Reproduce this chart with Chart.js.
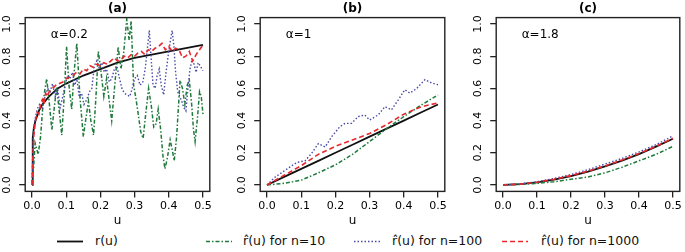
<!DOCTYPE html>
<html>
<head>
<meta charset="utf-8">
<script src="https://cdn.jsdelivr.net/npm/chart.js@4.4.1/dist/chart.umd.min.js"></script>
<style>
  body { margin: 0; background: #fff; }
  #wrap { position: relative; width: 685px; height: 252px; overflow: hidden; font-family: 'DejaVu Sans', sans-serif; }
  #wrap canvas { position: absolute; top: 0; }
  .key { position: absolute; top: 233px; height: 16px; line-height: 16px; font-size: 12.5px; color: #111; white-space: nowrap; }
  .key svg { position: absolute; top: 0; left: 0; }
</style>
</head>
<body>
<div id="wrap">
  <canvas id="pa" width="225" height="232" style="left:0px"></canvas>
  <canvas id="pb" width="225" height="232" style="left:235px"></canvas>
  <canvas id="pc" width="214" height="232" style="left:471px"></canvas>
</div>
<script>
// ticks, titles, legend
const xTicks = [0, 0.1, 0.2, 0.3, 0.4, 0.5];
const yTicks = [0, 0.2, 0.4, 0.6, 0.8, 1.0];
const panelTitles = ['(a)', '(b)', '(c)'];
const alphaLabels = ['α=0.2', 'α=1', 'α=1.8'];
const legendLabels = ['r(u)', 'r\u0302(u) for n=10', 'r\u0302(u) for n=100', 'r\u0302(u) for n=1000'];

// panel (a), alpha = 0.2
const uTrueA = [0, 0.002, 0.005, 0.01, 0.02, 0.03, 0.05, 0.075, 0.1, 0.15, 0.2, 0.25, 0.3, 0.35, 0.4, 0.45, 0.5];
const rTrueA = [0, 0.29, 0.35, 0.40, 0.46, 0.50, 0.55, 0.60, 0.63, 0.68, 0.72, 0.76, 0.79, 0.81, 0.83, 0.85, 0.87];

const uN10A = [0, 0.005, 0.009, 0.014, 0.018, 0.025, 0.032, 0.038, 0.043, 0.05,
  0.058, 0.065, 0.072, 0.08, 0.087, 0.094, 0.101, 0.108, 0.116, 0.123,
  0.131, 0.14, 0.15, 0.158, 0.165, 0.172, 0.18, 0.187, 0.194, 0.202,
  0.21, 0.218, 0.226, 0.233, 0.242, 0.252, 0.26, 0.268, 0.277, 0.284,
  0.29, 0.297, 0.303, 0.31, 0.318, 0.325, 0.333, 0.341, 0.349, 0.356,
  0.363, 0.369, 0.376, 0.383, 0.389, 0.396, 0.404, 0.41, 0.416, 0.423,
  0.433, 0.44, 0.447, 0.454, 0.46, 0.467, 0.472, 0.477, 0.484, 0.49,
  0.495, 0.5];
const rN10A = [0.01, 0.12, 0.26, 0.22, 0.19, 0.30, 0.50, 0.60, 0.66, 0.52,
  0.34, 0.48, 0.61, 0.45, 0.31, 0.55, 0.86, 0.62, 0.47, 0.70,
  0.88, 0.55, 0.30, 0.42, 0.52, 0.40, 0.31, 0.55, 0.83, 0.70,
  0.55, 0.66, 0.52, 0.40, 0.62, 0.86, 0.72, 0.82, 1.03, 0.90,
  1.02, 0.62, 0.55, 0.45, 0.33, 0.29, 0.45, 0.60, 0.49, 0.36,
  0.38, 0.47, 0.35, 0.18, 0.10, 0.17, 0.28, 0.22, 0.15, 0.30,
  0.65, 0.60, 0.50, 0.62, 0.65, 0.50, 0.35, 0.27, 0.42, 0.58,
  0.55, 0.44];

const uN100A = [0, 0.003, 0.008, 0.015, 0.022, 0.03, 0.038, 0.046, 0.053, 0.06,
  0.068, 0.075, 0.082, 0.09, 0.097, 0.104, 0.111, 0.118, 0.125, 0.131,
  0.138, 0.145, 0.152, 0.16, 0.168, 0.175, 0.182, 0.189, 0.196, 0.204,
  0.211, 0.218, 0.226, 0.233, 0.241, 0.248, 0.256, 0.263, 0.27, 0.278,
  0.286, 0.293, 0.3, 0.308, 0.316, 0.324, 0.331, 0.338, 0.343, 0.348,
  0.354, 0.36, 0.366, 0.372, 0.378, 0.385, 0.392, 0.398, 0.405, 0.41,
  0.415, 0.42, 0.426, 0.432, 0.438, 0.444, 0.45, 0.456, 0.462, 0.468,
  0.474, 0.48, 0.486, 0.492, 0.5];
const rN100A = [0, 0.30, 0.40, 0.47, 0.50, 0.47, 0.55, 0.60, 0.58, 0.63,
  0.55, 0.60, 0.48, 0.55, 0.62, 0.68, 0.66, 0.70, 0.62, 0.66,
  0.55, 0.57, 0.50, 0.53, 0.58, 0.60, 0.74, 0.77, 0.73, 0.76,
  0.70, 0.72, 0.64, 0.66, 0.72, 0.74, 0.66, 0.60, 0.57, 0.56,
  0.55, 0.60, 0.66, 0.68, 0.62, 0.64, 0.72, 0.86, 0.96, 0.80,
  0.62, 0.60, 0.68, 0.72, 0.62, 0.56, 0.70, 0.80, 0.90, 0.96,
  0.86, 0.70, 0.58, 0.55, 0.52, 0.48, 0.46, 0.60, 0.72, 0.78,
  0.75, 0.70, 0.76, 0.74, 0.71];

const uN1000A = [0, 0.002, 0.005, 0.01, 0.015, 0.02, 0.025, 0.03, 0.035, 0.04,
  0.045, 0.05, 0.06, 0.07, 0.08, 0.09, 0.1, 0.11, 0.12, 0.13,
  0.14, 0.15, 0.16, 0.17, 0.18, 0.19, 0.2, 0.21, 0.22, 0.23,
  0.24, 0.25, 0.26, 0.27, 0.28, 0.29, 0.3, 0.31, 0.32, 0.33,
  0.34, 0.35, 0.36, 0.37, 0.38, 0.39, 0.4, 0.41, 0.42, 0.43,
  0.44, 0.45, 0.46, 0.47, 0.48, 0.49, 0.5];
const rN1000A = [0, 0.15, 0.30, 0.40, 0.45, 0.44, 0.50, 0.53, 0.50, 0.57,
  0.55, 0.58, 0.60, 0.62, 0.63, 0.64, 0.66, 0.67, 0.68, 0.70,
  0.69, 0.72, 0.71, 0.74, 0.73, 0.75, 0.74, 0.76, 0.75, 0.77,
  0.79, 0.77, 0.78, 0.80, 0.79, 0.81, 0.80, 0.82, 0.83, 0.81,
  0.84, 0.83, 0.85, 0.86, 0.88, 0.84, 0.86, 0.83, 0.85, 0.84,
  0.79, 0.80, 0.83, 0.77, 0.81, 0.84, 0.87];

// panels (b) and (c) share one u grid
const uGrid = [0, 0.05, 0.1, 0.15, 0.2, 0.25, 0.3, 0.35, 0.4, 0.45, 0.5];

// panel (b), alpha = 1
const rTrueB  = [0, 0.05, 0.1, 0.15, 0.2, 0.25, 0.3, 0.35, 0.4, 0.45, 0.5];
const rN10B   = [0, 0.01, 0.03, 0.075, 0.125, 0.19, 0.27, 0.35, 0.425, 0.495, 0.56];
const rN1000B = [0, 0.06, 0.12, 0.19, 0.24, 0.28, 0.32, 0.375, 0.44, 0.485, 0.51];
const uN100B  = [0, 0.023, 0.052, 0.087, 0.111, 0.13, 0.15, 0.17, 0.189, 0.213,
  0.228, 0.247, 0.267, 0.286, 0.3, 0.325, 0.345, 0.364, 0.384, 0.403,
  0.418, 0.438, 0.462, 0.481, 0.5];
const rN100B  = [0, 0.048, 0.09, 0.14, 0.15, 0.195, 0.257, 0.236, 0.30, 0.362,
  0.383, 0.383, 0.425, 0.435, 0.404, 0.435, 0.487, 0.467, 0.529, 0.592,
  0.571, 0.60, 0.655, 0.634, 0.623];

// panel (c), alpha = 1.8
const rTrueC  = [0, 0.005, 0.016, 0.033, 0.055, 0.083, 0.115, 0.151, 0.192, 0.238, 0.287];
const rN10C   = [0, 0.003, 0.01, 0.02, 0.035, 0.05, 0.075, 0.11, 0.15, 0.19, 0.24];
const rN100C  = [0, 0.006, 0.02, 0.04, 0.065, 0.095, 0.13, 0.165, 0.205, 0.25, 0.305];
const rN1000C = [0, 0.005, 0.017, 0.035, 0.058, 0.086, 0.118, 0.155, 0.195, 0.24, 0.29];

const styles = [
    { color: '#111111', width: 1.8, dash: [] },
    { color: '#1f7a3c', width: 1.5, dash: [4, 2, 1.5, 2] },
    { color: '#4a4aa8', width: 1.4, dash: [1.5, 2] },
    { color: '#e8282c', width: 1.6, dash: [5, 3] },
];

Chart.defaults.font.family = "'DejaVu Sans', sans-serif";
Chart.defaults.color = '#111';

const pts = (u, v) => u.map((x, i) => ({ x, y: v[i] }));

// box round the plot region, R style
const frame = {
    id: 'frame',
    afterDraw(chart) {
        const { ctx, chartArea: { left, top, right, bottom } } = chart;
        ctx.save();
        ctx.strokeStyle = '#222';
        ctx.lineWidth = 1.4;
        ctx.strokeRect(left, top, right - left, bottom - top);
        ctx.restore();
    },
};

// alpha label inside the plot
const alphaNote = {
    id: 'alphaNote',
    afterDraw(chart, args, opts) {
        const { ctx, scales: { x, y } } = chart;
        ctx.save();
        ctx.font = "12px 'DejaVu Sans'";
        ctx.fillStyle = '#000';
        ctx.textBaseline = 'middle';
        ctx.fillText(opts.text, x.getPixelForValue(0.055), y.getPixelForValue(0.93));
        ctx.restore();
    },
};

function panel(id, title, alpha, lines, padRight) {
    const canvas = document.getElementById(id);
    new Chart(canvas, {
        type: 'line',
        plugins: [frame, alphaNote],
        data: {
            datasets: lines.map(([u, v], i) => ({
                data: pts(u, v),
                borderColor: styles[i].color,
                borderWidth: styles[i].width,
                borderDash: styles[i].dash,
                pointRadius: 0,
                tension: 0,
                fill: false,
                order: lines.length - i,
            })),
        },
        options: {
            responsive: false,
            animation: false,
            devicePixelRatio: 1,
            events: [],
            layout: { padding: { top: 0, right: padRight, left: 0, bottom: 0 } },
            plugins: {
                legend: { display: false },
                tooltip: { enabled: false },
                title: {
                    display: true,
                    text: title,
                    fullSize: false,
                    color: '#000',
                    font: { size: 12, weight: 'bold', lineHeight: 1.2 },
                    padding: { top: 1.6, bottom: 1.6 },
                },
                alphaNote: { text: alpha },
            },
            scales: {
                x: {
                    type: 'linear',
                    min: -0.02,
                    max: 0.52,
                    afterBuildTicks: s => { s.ticks = xTicks.map(value => ({ value })); },
                    afterFit: s => { s.height = canvas.height - 191.4; },
                    grid: { drawOnChartArea: false, tickLength: 6, color: '#222', lineWidth: 1.3 },
                    border: { display: false },
                    ticks: {
                        autoSkip: false,
                        maxRotation: 0,
                        padding: 2.5,
                        color: '#000',
                        font: { size: 11 },
                        callback: v => v.toFixed(1),
                    },
                    title: { display: true, text: 'u', color: '#000', font: { size: 12 }, padding: { top: 0, bottom: 3.5 } },
                },
                y: {
                    min: -0.04,
                    max: 1.04,
                    afterBuildTicks: s => { s.ticks = yTicks.map(value => ({ value })); },
                    afterFit: s => { s.width = 25.2; },
                    grid: { drawOnChartArea: false, tickLength: 6, color: '#222', lineWidth: 1.3 },
                    border: { display: false },
                    ticks: {
                        minRotation: 90,
                        maxRotation: 90,
                        crossAlign: 'center',
                        padding: 3.5,
                        color: '#000',
                        font: { size: 11 },
                        callback: v => v.toFixed(1),
                    },
                },
            },
        },
    });
}

panel('pa', panelTitles[0], alphaLabels[0], [
    [uTrueA, rTrueA], [uN10A, rN10A], [uN100A, rN100A], [uN1000A, rN1000A],
], 15.2);
panel('pb', panelTitles[1], alphaLabels[1], [
    [uGrid, rTrueB], [uGrid, rN10B], [uN100B, rN100B], [uGrid, rN1000B],
], 15.2);
panel('pc', panelTitles[2], alphaLabels[2], [
    [uGrid, rTrueC], [uGrid, rN10C], [uGrid, rN100C], [uGrid, rN1000C],
], 5.2);

// legend row under the three panels
const keySample = [57, 206, 354, 502];
const keyText = [95, 243, 392, 541];
const wrap = document.getElementById('wrap');
legendLabels.forEach((label, i) => {
    const s = styles[i];
    const el = document.createElement('div');
    el.className = 'key';
    el.style.left = keySample[i] + 'px';
    el.style.width = (keyText[i] - keySample[i] + 110) + 'px';
    el.innerHTML =
        `<svg width="${keyText[i] - keySample[i]}" height="16">` +
        `<line x1="0" x2="26" y1="8.5" y2="8.5" stroke="${s.color}" stroke-width="${s.width}"` +
        ` stroke-dasharray="${s.dash.join(' ')}"/></svg>`;
    const txt = document.createElement('span');
    txt.style.position = 'absolute';
    txt.style.left = (keyText[i] - keySample[i]) + 'px';
    txt.textContent = label;
    el.appendChild(txt);
    wrap.appendChild(el);
});
</script>
</body>
</html>
